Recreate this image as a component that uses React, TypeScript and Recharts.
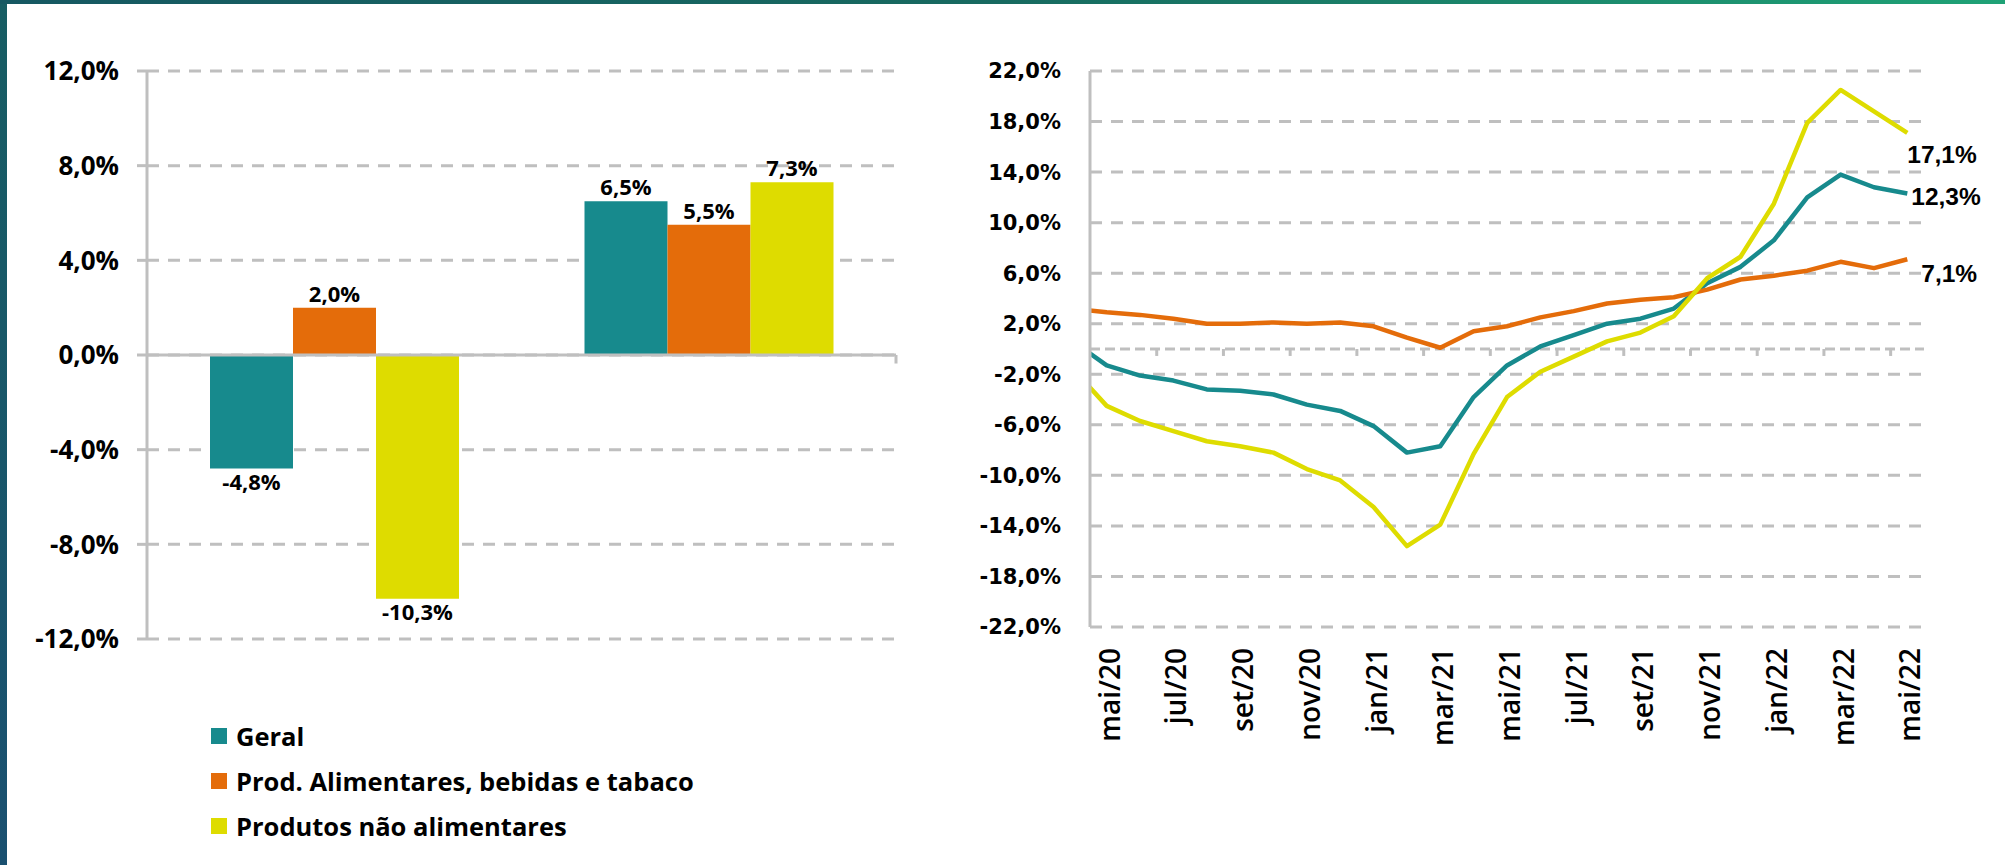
import React from 'react'
import {
  BarChart,
  Bar,
  LineChart,
  Line,
  XAxis,
  YAxis,
  CartesianGrid,
  ReferenceLine,
  LabelList
} from 'recharts'

const W = 2005
const H = 865

// left chart: two periods, three groups
const barCategories = ['período 1', 'período 2']
const seriesNames = ['Geral', 'Prod. Alimentares, bebidas e tabaco', 'Produtos não alimentares']
const barGeral = [-4.8, 6.5]
const barAlimentares = [2.0, 5.5]
const barNaoAlimentares = [-10.3, 7.3]
const barTicks = [-12, -8, -4, 0, 4, 8, 12]

// right chart: monthly series (abr/20 sits left of the axis and is clipped)
const months = [
  'abr/20', 'mai/20', 'jun/20', 'jul/20', 'ago/20', 'set/20', 'out/20', 'nov/20', 'dez/20',
  'jan/21', 'fev/21', 'mar/21', 'abr/21', 'mai/21', 'jun/21', 'jul/21', 'ago/21', 'set/21',
  'out/21', 'nov/21', 'dez/21', 'jan/22', 'fev/22', 'mar/22', 'abr/22', 'mai/22'
]
const lineGeral = [
  0.6, -1.3, -2.1, -2.5, -3.2, -3.3, -3.6, -4.4, -4.9, -6.1, -8.2, -7.7, -3.8,
  -1.3, 0.2, 1.1, 2.0, 2.4, 3.2, 5.2, 6.5, 8.6, 12.0, 13.8, 12.8, 12.3
]
const lineAlimentares = [
  3.2, 2.9, 2.7, 2.4, 2.0, 2.0, 2.1, 2.0, 2.1, 1.8, 0.9, 0.1, 1.4,
  1.8, 2.5, 3.0, 3.6, 3.9, 4.1, 4.7, 5.5, 5.8, 6.2, 6.9, 6.4, 7.1
]
const lineNaoAlimentares = [
  -1.6, -4.5, -5.7, -6.5, -7.3, -7.7, -8.2, -9.5, -10.4, -12.5, -15.6, -13.9, -8.3,
  -3.8, -1.8, -0.6, 0.6, 1.3, 2.6, 5.6, 7.3, 11.5, 17.9, 20.5, 18.8, 17.1
]
const lineTicks = [-22, -18, -14, -10, -6, -2, 2, 6, 10, 14, 18, 22]
const monthTicks = [0, 2, 4, 6, 8, 10, 12, 14, 16, 18, 20, 22, 24]
const boundaryTicks = [1.5, 3.5, 5.5, 7.5, 9.5, 11.5, 13.5, 15.5, 17.5, 19.5, 21.5, 23.5]

const COLORS = ['#178a8d', '#e46c0a', '#dedc00']
const GRID = '#bfbfbf'
const OPEN = '"Open Sans", sans-serif'

const fmt = (v: number) => v.toFixed(1).replace('.', ',') + '%'

const barData = barCategories.map((cat, i) => ({
  cat,
  geral: barGeral[i],
  alim: barAlimentares[i],
  nao: barNaoAlimentares[i]
}))

const lineData = months.map((m, i) => ({
  x: i - 1,
  month: m,
  geral: lineGeral[i],
  alim: lineAlimentares[i],
  nao: lineNaoAlimentares[i]
}))

const renderBarLabel = (props: any) => {
  const { x, y, width, height, value } = props
  const v = Number(value)
  const top = Math.min(y, y + height)
  const bottom = Math.max(y, y + height)
  const ly = v >= 0 ? top - 15 : bottom + 12
  return (
    <text
      x={x + width / 2}
      y={ly}
      textAnchor="middle"
      dominantBaseline="central"
      fill="#000"
      fontFamily={OPEN}
      fontWeight={700}
      fontSize={22}
    >
      {fmt(v)}
    </text>
  )
}

const MonthTick = (props: any) => {
  const { x, y, payload } = props
  return (
    <text
      transform={`translate(${x},${y}) rotate(-90)`}
      x={0}
      y={13}
      textAnchor="end"
      fill="#000"
      fontFamily={OPEN}
      fontWeight={600}
      fontSize={28}
    >
      {months[payload.value + 1]}
    </text>
  )
}

const endOffsets: Record<string, [number, number]> = {
  geral: [4, 3],
  alim: [14, 14],
  nao: [0, 22]
}

const endLabel = (key: string) => (props: any) => {
  const { x, y, value, index } = props
  if (index !== lineData.length - 1) return null
  const [dx, dy] = endOffsets[key]
  return (
    <text
      x={x + dx}
      y={y + dy}
      textAnchor="start"
      dominantBaseline="central"
      fill="#000"
      fontFamily='"Liberation Sans", Arial, sans-serif'
      fontWeight={700}
      fontSize={24.5}
    >
      {fmt(Number(value))}
    </text>
  )
}

export default function App() {
  const barKeys = ['geral', 'alim', 'nao']
  const lineKeys = ['geral', 'alim', 'nao']
  return (
    <div
      style={{
        position: 'fixed',
        left: 0,
        top: 0,
        width: W,
        height: H,
        overflow: 'hidden',
        background: 'linear-gradient(180deg, #175d63, #1a5070)'
      }}
    >
      <div
        style={{
          position: 'absolute',
          left: 0,
          top: 0,
          width: W,
          height: 4,
          background: 'linear-gradient(90deg, #165862, #176a60 50%, #1fa276)'
        }}
      />
      <div style={{ position: 'absolute', left: 7, top: 4, right: 0, bottom: 0, background: '#fff' }} />

      <div style={{ position: 'absolute', left: 0, top: 0 }}>
        <BarChart
          width={1000}
          height={H}
          data={barData}
          margin={{ top: 71, right: 104, bottom: 226, left: 47 }}
          barGap={0}
          barSize={83}
        >
          <CartesianGrid vertical={false} stroke={GRID} strokeWidth={3} strokeDasharray="12 9" />
          <XAxis dataKey="cat" hide />
          <XAxis xAxisId="b" type="number" domain={[0, 2]} allowDataOverflow hide />
          <YAxis
            domain={[-12, 12]}
            ticks={barTicks}
            width={100}
            tickFormatter={fmt}
            axisLine={{ stroke: GRID, strokeWidth: 3 }}
            tickLine={{ stroke: GRID, strokeWidth: 3 }}
            tickSize={10}
            tickMargin={18}
            tick={{ fill: '#000', fontSize: 26, fontWeight: 700, fontFamily: OPEN }}
          />
          {barKeys.map((k, i) => (
            <Bar key={k} dataKey={k} name={seriesNames[i]} fill={COLORS[i]} isAnimationActive={false}>
              <LabelList dataKey={k} content={renderBarLabel} />
            </Bar>
          ))}
          <ReferenceLine y={0} stroke={GRID} strokeWidth={3} />
          {[1, 2].map((b) => (
            <ReferenceLine
              key={b}
              xAxisId="b"
              segment={[{ x: b, y: 0 }, { x: b, y: -0.36 }]}
              stroke={GRID}
              strokeWidth={3}
            />
          ))}
        </BarChart>
      </div>

      <div style={{ position: 'absolute', left: 211, top: 713.5 }}>
        {seriesNames.map((name, i) => (
          <div key={name} style={{ display: 'flex', alignItems: 'center', height: 45 }}>
            <div style={{ width: 16, height: 16, background: COLORS[i], marginRight: 9 }} />
            <span
              style={{
                fontFamily: OPEN,
                fontWeight: 700,
                fontSize: 25.5,
                color: '#000',
                whiteSpace: 'nowrap'
              }}
            >
              {name}
            </span>
          </div>
        ))}
      </div>

      <div style={{ position: 'absolute', left: 900, top: 0 }}>
        <LineChart
          width={1105}
          height={H}
          data={lineData}
          margin={{ top: 71, right: 81, bottom: 118, left: 70 }}
        >
          <CartesianGrid vertical={false} stroke={GRID} strokeWidth={3} strokeDasharray="12 9" />
          <XAxis
            dataKey="x"
            type="number"
            domain={[-0.5, 24.5]}
            allowDataOverflow
            ticks={monthTicks}
            interval={0}
            height={120}
            axisLine={false}
            tickLine={false}
            tickSize={0}
            tickMargin={21}
            tick={<MonthTick />}
          />
          <YAxis
            domain={[-22, 22]}
            ticks={lineTicks}
            width={120}
            tickFormatter={fmt}
            axisLine={{ stroke: GRID, strokeWidth: 3 }}
            tickLine={false}
            tickSize={0}
            tickMargin={29}
            tick={{ fill: '#000', fontSize: 21, fontWeight: 700, fontFamily: '"DejaVu Sans", sans-serif' }}
          />
          <ReferenceLine y={0} stroke={GRID} strokeWidth={3} strokeDasharray="10 5" />
          {boundaryTicks.map((b) => (
            <ReferenceLine
              key={b}
              segment={[{ x: b, y: 0 }, { x: b, y: -0.55 }]}
              stroke={GRID}
              strokeWidth={3}
            />
          ))}
          {lineKeys.map((k, i) => (
            <Line
              key={k}
              type="linear"
              dataKey={k}
              name={seriesNames[i]}
              stroke={COLORS[i]}
              strokeWidth={4.5}
              strokeLinejoin="round"
              dot={false}
              activeDot={false}
              isAnimationActive={false}
            >
              <LabelList dataKey={k} content={endLabel(k)} />
            </Line>
          ))}
        </LineChart>
      </div>
    </div>
  )
}
